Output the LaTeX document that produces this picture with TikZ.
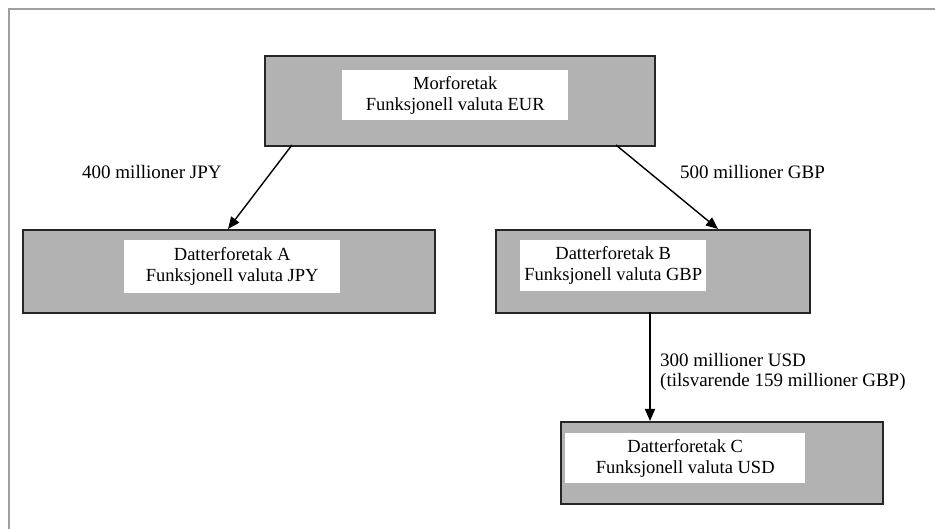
\documentclass[tikz,border=0pt]{standalone}
\usepackage{fontspec}
\setmainfont{Liberation Serif}
\usetikzlibrary{arrows.meta}
\begin{document}
\begin{tikzpicture}[x=1pt,y=-1pt,
  outerbox/.style={draw=black!85, line width=1.8pt, fill=gray!60, inner sep=0pt, anchor=north west},
  innerbox/.style={fill=white, inner sep=0pt, anchor=north west},
  boxtext/.style={align=center, inner sep=0pt, font=\fontsize{18.5}{21}\selectfont},
  conn/.style={line width=1.4pt, -{Triangle[length=12pt,width=10pt]}},
  lbl/.style={font=\fontsize{19}{19}\selectfont, inner sep=0pt, align=left}]
\useasboundingbox (0,0) rectangle (935,529);
\draw[gray!75, line width=1.6pt] (9,529) -- (9,9) -- (935,9);
% boxes
\node[outerbox, minimum width=390pt, minimum height=90pt] (top) at (264,55) {};
\node[innerbox, minimum width=226pt, minimum height=50pt] (topt) at (342,70) {};
\node[boxtext] (toptext) at (topt.center) {Morforetak\\Funksjonell valuta EUR};
\node[outerbox, minimum width=412pt, minimum height=83pt] (a) at (22,229) {};
\node[innerbox, minimum width=216pt, minimum height=53pt] (at) at (124,240) {};
\node[boxtext] (atext) at (at.center) {Datterforetak A\\Funksjonell valuta JPY};
\node[outerbox, minimum width=314pt, minimum height=83pt] (b) at (495,229) {};
\node[innerbox, minimum width=186pt, minimum height=51pt] (bt) at (520,240) {};
\node[boxtext] (btext) at (bt.center) {Datterforetak B\\Funksjonell valuta GBP};
\node[outerbox, minimum width=322pt, minimum height=82pt] (c) at (560,421) {};
\node[innerbox, minimum width=240pt, minimum height=50pt] (ct) at (565,433) {};
\node[boxtext] (ctext) at (ct.center) {Datterforetak C\\Funksjonell valuta USD};
% connector end points
\coordinate (ta) at (292,145);
\coordinate (tb) at (616,145);
\coordinate (ae) at (228,229);
\coordinate (be) at (718,229);
\coordinate (bc) at (650,312);
\coordinate (ce) at (650,421);
\draw[conn] (ta) -- (ae);
\draw[conn] (tb) -- (be);
\draw[conn] (bc) -- (ce);
% labels
\node[lbl, anchor=west] (l1) at (82,172) {400 millioner JPY};
\node[lbl, anchor=west] (l2) at (680,172) {500 millioner GBP};
\node[lbl, anchor=north west] (l3) at (660,353) {300 millioner USD\\[1pt](tilsvarende 159 millioner GBP)};
\end{tikzpicture}
\end{document}
